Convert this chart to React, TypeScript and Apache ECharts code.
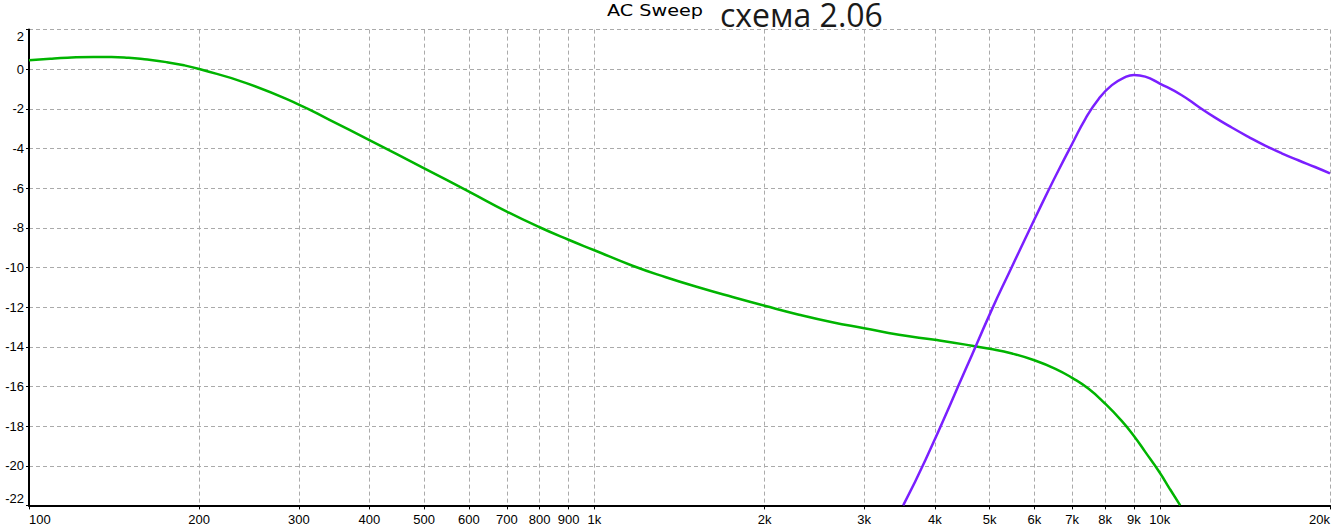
import React, { useEffect, useRef } from "react";
import * as echarts from "echarts";

const xTicks = [100, 200, 300, 400, 500, 600, 700, 800, 900, 1000, 2000, 3000, 4000, 5000, 6000, 7000, 8000, 9000, 10000, 20000];
const xTickLabels = ["100", "200", "300", "400", "500", "600", "700", "800", "900", "1k", "2k", "3k", "4k", "5k", "6k", "7k", "8k", "9k", "10k", "20k"];
const yMin = -22;
const yMax = 2;
const yStep = 2;

const titleSmall = "AC Sweep";
const titleBig = "схема 2.06";

const greenFreq = [100, 109, 117, 130, 140, 150, 160, 175, 188, 200, 243, 300, 340, 400, 500, 600, 700, 800, 900, 1000, 1168, 1338, 1532, 1755, 2000, 2301, 2635, 3000, 3456, 4000, 4533, 5000, 5478, 6000, 6537, 7000, 7484, 8000, 8570, 9000, 9424, 10000, 10433, 10866];
const greenDb = [0.45, 0.53, 0.58, 0.62, 0.62, 0.58, 0.5, 0.36, 0.2, 0.01, -0.71, -1.78, -2.55, -3.57, -5.0, -6.17, -7.18, -7.97, -8.6, -9.13, -9.91, -10.49, -11.01, -11.49, -11.93, -12.38, -12.76, -13.06, -13.39, -13.65, -13.89, -14.1, -14.34, -14.68, -15.11, -15.57, -16.12, -16.86, -17.75, -18.5, -19.3, -20.35, -21.2, -22];

const purpleFreq = [3517, 3852, 4533, 5050, 5405, 6000, 6362, 6624, 7000, 7386, 7795, 8227, 8687, 9000, 9424, 10000, 10936, 11706, 12528, 13404, 14346, 15355, 16428, 17579, 18810, 20000];
const purpleDb = [-22, -19.7, -15.15, -12.1, -10.3, -7.58, -6.08, -5.08, -3.76, -2.5, -1.5, -0.8, -0.4, -0.29, -0.37, -0.72, -1.31, -1.89, -2.44, -2.94, -3.41, -3.85, -4.24, -4.59, -4.93, -5.25];

const labelFor = (v: number) => {
  let best = 0;
  for (let i = 0; i < xTicks.length; i++) {
    if (Math.abs(xTicks[i] - v) < Math.abs(xTicks[best] - v)) best = i;
  }
  return xTickLabels[best];
};

export default function App() {
  const ref = useRef<HTMLDivElement>(null);
  useEffect(() => {
    if (!ref.current) return;
    const chart = echarts.init(ref.current, undefined, { renderer: "svg" });
    const gridLine = { show: true, lineStyle: { color: "#aaaaaa", width: 1, type: [4, 3] as any } };
    chart.setOption({
      animation: false,
      backgroundColor: "#ffffff",
      grid: { left: 29, right: 1.3, top: 29.6, bottom: 25.6, containLabel: false },
      xAxis: {
        type: "log",
        logBase: 10,
        min: 100,
        max: 20000,
        axisLine: { show: true, onZero: false, lineStyle: { color: "#000", width: 2 } },
        axisTick: { show: true, length: 4, lineStyle: { color: "#000", width: 1 }, customValues: xTicks },
        axisLabel: {
          customValues: xTicks,
          formatter: (v: number) => labelFor(v),
          color: "#000",
          fontFamily: "Liberation Sans",
          fontSize: 13,
          margin: 8,
          alignMinLabel: "left",
          alignMaxLabel: "right",
        },
        splitLine: gridLine,
        minorTick: { show: false },
        minorSplitLine: { show: false },
      },
      yAxis: {
        type: "value",
        min: yMin,
        max: yMax,
        interval: yStep,
        axisLine: { show: true, onZero: false, lineStyle: { color: "#000", width: 2 } },
        axisTick: { show: true, length: 3, lineStyle: { color: "#000", width: 1 } },
        axisLabel: {
          color: "#000",
          fontFamily: "Liberation Sans",
          fontSize: 13,
          margin: 5,
          verticalAlignMinLabel: "bottom",
          verticalAlignMaxLabel: "top",
        },
        splitLine: gridLine,
      },
      graphic: [
        {
          type: "text",
          x: 607,
          y: 10.5,
          scaleX: 1.28,
          style: { text: titleSmall, fill: "#000", font: '15px "DejaVu Sans"', lineHeight: 16, verticalAlign: "middle" },
        },
        {
          type: "text",
          x: 720,
          y: 14,
          style: { text: titleBig, fill: "#1a1a1a", font: '32px "Open Sans"', lineHeight: 26, verticalAlign: "middle" },
        },
      ],
      series: [
        {
          type: "line",
          data: greenFreq.map((f, i) => [f, greenDb[i]]),
          showSymbol: false,
          smooth: 0.5,
          clip: true,
          lineStyle: { color: "#00b400", width: 2.5 },
        },
        {
          type: "line",
          data: purpleFreq.map((f, i) => [f, purpleDb[i]]),
          showSymbol: false,
          smooth: 0.5,
          clip: true,
          lineStyle: { color: "#7a1fff", width: 2.5 },
        },
      ],
    });
    return () => chart.dispose();
  }, []);
  return (
    <div
      ref={ref}
      style={{ position: "absolute", left: 0, top: 0, width: 1333, height: 531, background: "#fff" }}
    />
  );
}
